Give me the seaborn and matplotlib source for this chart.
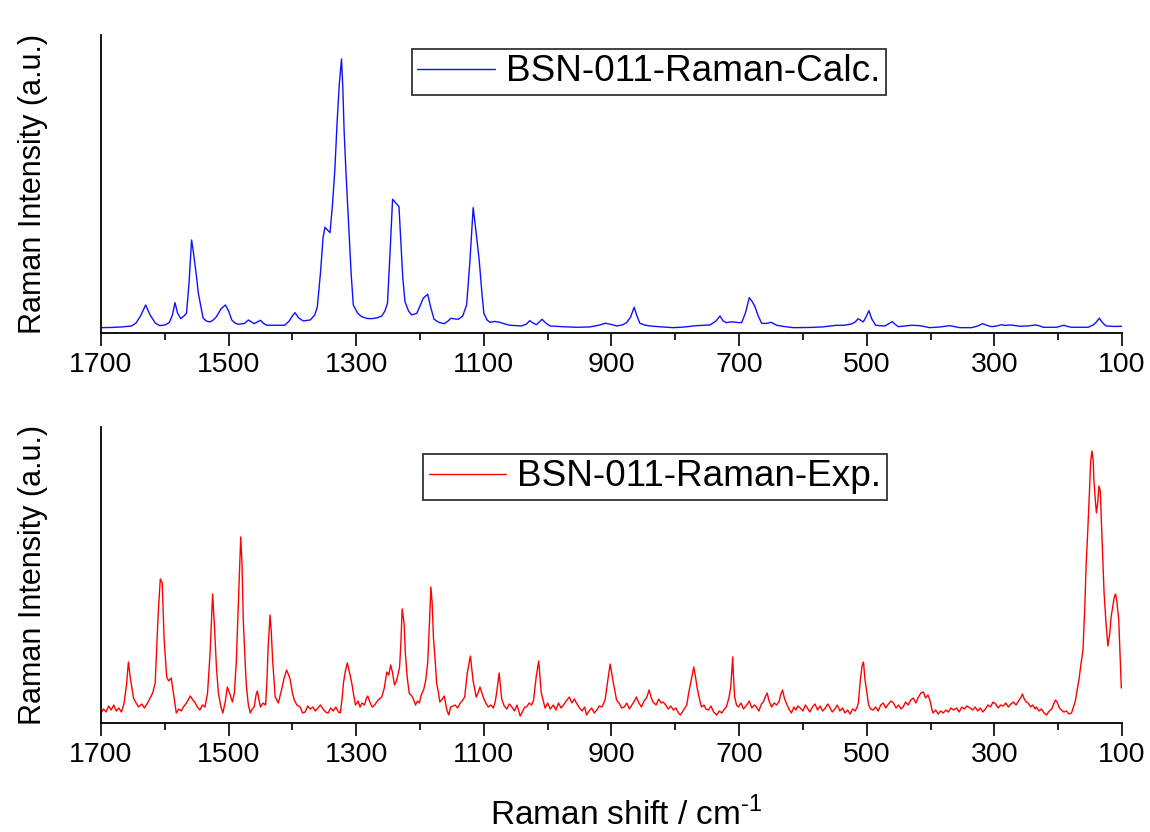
import matplotlib
matplotlib.use("Agg")
from matplotlib import pyplot as plt
import seaborn as sb

# calculated spectrum (shift in cm-1, intensity in a.u.)
calc_shift = [1700, 1684, 1668, 1652, 1645, 1638, 1630, 1623, 1615, 1608, 1600, 1593,
              1588, 1584, 1580, 1575, 1570, 1566, 1562, 1558, 1555, 1553, 1550, 1547.5,
              1543, 1540, 1535, 1529, 1524, 1519, 1512, 1505, 1500, 1495, 1490, 1485,
              1475, 1469, 1464, 1460, 1455, 1450, 1445, 1440, 1425, 1412, 1405, 1400,
              1396, 1390, 1383, 1372, 1365, 1361, 1356, 1352, 1349, 1345, 1341, 1337,
              1333.5, 1330, 1326.6, 1323, 1321, 1319, 1316, 1312.5, 1308, 1304.6, 1298,
              1291.6, 1283, 1276, 1268, 1260, 1255, 1251, 1247, 1243, 1238, 1233, 1230,
              1227, 1223.6, 1218, 1213, 1205, 1200, 1195, 1188, 1183, 1178, 1170, 1162,
              1156, 1151.6, 1145, 1140, 1133, 1127, 1122, 1116.7, 1112, 1107.3, 1103,
              1100, 1095, 1090.5, 1083, 1075, 1067, 1059, 1050, 1041, 1033, 1028, 1023,
              1017.6, 1013, 1008.8, 1003, 996.4, 975, 955, 934, 918, 910, 900, 892, 883,
              876.3, 870, 864.4, 860, 855.5, 848, 840, 820, 803, 785, 766.7, 745.7, 736,
              730, 725, 719.6, 714, 709, 703, 696, 690, 684, 679, 675, 670, 664.6, 657,
              650, 645, 641, 630, 615, 590, 570, 547, 535, 523.7, 518, 513.3, 509, 505.4,
              501, 496.6, 492, 486, 479, 471.5, 466, 460, 455, 450.6, 440, 429.8, 416.7,
              401, 385, 369.6, 360, 353.9, 335.6, 326, 318.4, 311, 304, 296, 288.6, 284,
              280.8, 275, 270.4, 260, 248, 235, 229, 223.5, 202.6, 191, 185, 179, 153,
              145, 140, 135.6, 130, 125, 112, 100.5]
calc_intensity = [5.3, 5.5, 6, 7, 10, 17, 28, 18, 10, 7.3, 8, 10.3,
                  18, 30.3, 20, 14.3, 17, 19.7, 50, 93, 80, 69.7, 55, 40,
                  25, 15, 12, 11, 13, 16.3, 24, 28, 22, 13, 10, 8.7,
                  9.5, 13, 11, 9.3, 11, 12.7, 9.5, 7.7, 7.7, 7.7, 12, 17,
                  20.3, 15, 12, 13, 18, 26, 60, 95, 105.7, 103, 100.3, 130,
                  163, 210, 248, 274, 245, 203, 160, 116.3, 60, 28, 20,
                  16.3, 14.5, 14.3, 15, 17, 22, 29.7, 80, 133.7, 130, 126.3, 89.7,
                  55, 31.3, 22, 18, 19.7, 27, 34.7, 38.7, 25, 13.7, 10.5, 9.3,
                  12, 14.7, 14, 13.7, 17, 28, 70, 125.3, 100, 73, 40,
                  19.7, 13, 10.7, 11.5, 10.7, 9, 7.7, 7.3, 7, 9, 12.3, 10,
                  8.3, 11, 13.7, 10, 7, 6.2, 5.7, 6, 8, 9.7, 8.5, 7, 8,
                  10.3, 16, 25.7, 17, 9.7, 8, 7, 6, 5.3, 6, 7.3, 8, 12,
                  17, 12, 10.3, 11, 11, 10.5, 10.3, 20, 35.3, 31, 26, 17, 9.7, 9.5,
                  10.7, 9, 7.7, 6.5, 5.3, 5.5, 6, 7.7, 7.7, 9, 11, 14.3, 12.5, 11,
                  16, 22.3, 14, 7.7, 7.3, 7, 9, 11.3, 8.5, 6.3, 7, 7.7, 7.3,
                  5.3, 6, 7.3, 6, 5.3, 5.3, 7, 9.3, 7.5, 6.3, 7, 8.3, 7.5,
                  7.7, 8, 7.7, 6.7, 7, 8, 7, 5.7, 5.7, 7.7, 6.5, 5.7, 5.7,
                  8, 11, 14.7, 10, 7, 6.5, 6.7]

exp_shift = [1700, 1696, 1692, 1688, 1684, 1680, 1676, 1672, 1668, 1664, 1660, 1657,
             1654, 1649, 1645, 1641, 1636, 1632, 1627, 1623, 1619, 1615, 1612, 1610,
             1607, 1604, 1601, 1597, 1594, 1590, 1586, 1582, 1578, 1574, 1571, 1566,
             1560, 1556, 1553, 1549, 1545, 1541, 1537, 1533, 1529, 1525, 1522, 1519,
             1516, 1512, 1509, 1505, 1502, 1498, 1494, 1491, 1488, 1485, 1481, 1479,
             1477, 1474, 1472, 1469, 1466, 1463, 1460, 1457, 1455, 1452, 1450, 1446,
             1442, 1440, 1438, 1435, 1433, 1431, 1427, 1422, 1419, 1417, 1413, 1409,
             1406, 1404, 1400, 1397, 1393, 1388, 1384, 1380, 1376, 1372, 1368, 1364,
             1360, 1356, 1352, 1348, 1344, 1340, 1336, 1332, 1328, 1325, 1322, 1320,
             1317, 1314, 1311, 1307, 1304, 1301, 1297, 1294, 1291, 1287, 1284, 1282,
             1278, 1275, 1271, 1268, 1264, 1260, 1256, 1252, 1249, 1246, 1243, 1240,
             1237, 1234, 1232, 1230, 1228, 1225, 1223, 1220, 1217, 1213, 1211, 1207,
             1204, 1201, 1198, 1194, 1191, 1188, 1185, 1183, 1181, 1179, 1176, 1174,
             1171, 1169, 1165, 1162, 1158, 1155, 1152, 1148, 1145, 1141, 1137, 1134,
             1130, 1126, 1121, 1117, 1112, 1109, 1106, 1101, 1097, 1093, 1089, 1085,
             1082, 1080, 1076, 1072, 1068, 1064, 1060, 1056, 1052, 1048, 1043, 1039,
             1036, 1033, 1029, 1025, 1022, 1018, 1014, 1010, 1004, 1000, 996, 991,
             987, 983, 979, 975, 971, 966, 962, 958, 955, 950, 946, 942,
             939, 935, 931, 927, 923, 919, 915, 910, 905, 902, 897, 892,
             888, 884, 880, 876, 872, 868, 864, 861, 857, 853, 849, 845,
             841, 838, 835, 830, 826, 822, 819, 815, 811, 807, 803, 799,
             795, 792, 788, 785, 782, 779, 776, 771, 768, 766, 762, 759,
             755, 752, 748, 744, 740, 735, 731, 727, 723, 720, 716, 713,
             710, 709, 707, 704, 701, 697, 693, 688, 684, 680, 676, 673,
             669, 665, 662, 659, 656, 653, 649, 645, 641, 637, 635, 632,
             629, 626, 622, 618, 614, 611, 608, 604, 600, 596, 592, 589,
             585, 581, 577, 573, 569, 565, 561, 558, 554, 550, 546, 542,
             538, 534, 530, 526, 522, 518, 515, 513, 510, 507, 505, 503,
             501, 497, 494, 490, 486, 482, 478, 474, 470, 466, 462, 458,
             454, 450, 446, 443, 439, 435, 431, 427, 423, 419, 415, 411,
             408, 404, 401, 398, 396, 392, 388, 384, 380, 376, 372, 368,
             364, 359, 355, 351, 347, 343, 338, 334, 330, 326, 322, 318,
             314, 310, 306, 302, 298, 294, 290, 286, 282, 278, 274, 270,
             266, 262, 258, 256, 253, 250, 247, 243, 240, 236, 234, 230,
             226, 222, 218, 214, 210, 207, 204, 201, 198, 195, 191, 187,
             183, 179, 176, 173, 171, 167, 164, 161, 158, 156, 154, 151,
             149, 147, 145, 144, 142, 140, 138, 136, 134, 132, 130, 128,
             125, 122, 119, 117, 114, 112, 110, 108, 105, 103, 101]
exp_intensity = [10, 14, 11, 17, 13, 18, 12, 15, 11, 19, 38, 61,
                 45, 25, 20, 16, 19, 15, 20, 25, 30, 40, 85, 113,
                 144, 140, 83, 46, 42, 45, 28, 10, 14, 12, 16, 20,
                 27, 23, 21, 16, 13, 18, 16, 30, 70, 129, 95, 55,
                 30, 16, 10, 22, 36, 29, 21, 30, 60, 113, 186, 160,
                 103, 60, 36, 18, 10, 14, 16, 28, 32, 22, 16, 20,
                 18, 40, 76, 108, 90, 63, 26, 20, 28, 33, 45, 53,
                 48, 45, 30, 23, 18, 16, 10, 11, 17, 14, 16, 12,
                 15, 18, 14, 11, 10, 15, 12, 16, 11, 10, 25, 40,
                 52, 60, 52, 40, 28, 18, 22, 16, 20, 18, 25, 27,
                 20, 16, 18, 21, 24, 26, 35, 51, 48, 58, 50, 38,
                 42, 50, 56, 80, 114, 100, 70, 45, 30, 27, 25, 18,
                 22, 20, 28, 34, 43, 60, 103, 136, 120, 86, 60, 40,
                 30, 21, 24, 27, 13, 8, 16, 17, 18, 15, 20, 22,
                 26, 50, 67, 43, 26, 30, 36, 26, 20, 16, 18, 15,
                 22, 30, 50, 24, 17, 14, 19, 16, 12, 18, 7, 12,
                 16, 16, 20, 18, 23, 46, 62, 30, 15, 20, 14, 18,
                 13, 20, 15, 18, 22, 26, 20, 24, 20, 15, 12, 16,
                 8, 12, 15, 10, 13, 17, 16, 23, 46, 59, 40, 23,
                 20, 15, 16, 20, 14, 18, 22, 26, 20, 16, 22, 25,
                 33, 26, 21, 18, 24, 20, 21, 18, 14, 17, 13, 15,
                 10, 8, 12, 15, 18, 30, 40, 56, 45, 36, 24, 16,
                 18, 14, 13, 17, 11, 8, 12, 10, 14, 16, 25, 36,
                 66, 50, 26, 18, 16, 20, 14, 18, 22, 15, 18, 16,
                 12, 19, 21, 26, 30, 22, 16, 20, 18, 22, 28, 33,
                 25, 20, 14, 10, 16, 13, 17, 15, 12, 18, 14, 11,
                 16, 19, 13, 17, 12, 15, 19, 16, 11, 14, 18, 12,
                 15, 10, 13, 9, 14, 12, 16, 20, 43, 58, 61, 45,
                 36, 18, 14, 13, 16, 12, 18, 20, 15, 19, 22, 20,
                 15, 18, 14, 16, 21, 18, 23, 25, 20, 26, 30, 31,
                 25, 28, 23, 14, 10, 13, 9, 12, 10, 13, 11, 15,
                 13, 15, 11, 16, 14, 17, 15, 13, 16, 12, 15, 11,
                 14, 18, 16, 21, 19, 15, 18, 17, 20, 16, 19, 21,
                 18, 22, 26, 29, 24, 21, 20, 16, 18, 14, 16, 12,
                 14, 10, 8, 12, 14, 19, 23, 20, 15, 13, 11, 12,
                 9, 10, 16, 22, 30, 45, 60, 73, 120, 160, 186, 230,
                 262, 272, 262, 243, 225, 210, 220, 237, 232, 200, 165, 130,
                 100, 77, 90, 106, 118, 126, 129, 122, 103, 70, 35]

calc_label = "BSN-011-Raman-Calc."
exp_label = "BSN-011-Raman-Exp."
tick_values = [1700, 1500, 1300, 1100, 900, 700, 500, 300, 100]
minor_values = [1600, 1400, 1200, 1000, 800, 600, 400, 200]

sb.set_style("ticks")
plt.rcParams['font.family'] = ['Liberation Sans', 'DejaVu Sans']
plt.rcParams['mathtext.fontset'] = 'custom'
plt.rcParams['mathtext.rm'] = 'Liberation Sans'

fig = plt.figure(figsize=(11.5, 8.32), dpi=100)
ax_top = fig.add_axes([0.0878, 0.5998, 0.8878, 0.3582])
ax_bot = fig.add_axes([0.0878, 0.1310, 0.8878, 0.3558])

sb.lineplot(x=calc_shift, y=calc_intensity, ax=ax_top, color="#1010ff", lw=1.0,
            estimator=None, label=calc_label)
sb.lineplot(x=exp_shift, y=exp_intensity, ax=ax_bot, color="#ff0000", lw=1.0,
            estimator=None, label=exp_label)

for ax, top in [(ax_top, 298), (ax_bot, 296)]:
    ax.set_xlim(1700, 100)
    ax.set_ylim(0, top)
    ax.set_yticks([])
    ax.set_xticks(tick_values)
    ax.set_xticklabels([str(v) for v in tick_values])
    ax.set_xticks(minor_values, minor=True)
    ax.tick_params(axis="x", which="major", length=9.5, width=1.2, pad=4.5,
                   labelsize=20.5, color="black", labelcolor="black", direction="out")
    ax.tick_params(axis="x", which="minor", length=5, width=1.2, color="black",
                   direction="out")
    for side in ["top", "right"]:
        ax.spines[side].set_visible(False)
    for side in ["left", "bottom"]:
        ax.spines[side].set_color("black")
        ax.spines[side].set_linewidth(1.3)
    ax.set_ylabel("Raman Intensity (a.u.)", fontsize=22, color="black")
    ax.yaxis.set_label_coords(-0.052, 0.5)
    ax.set_xlabel("")

leg = ax_top.legend(loc="upper left", bbox_to_anchor=(0.3046, 0.953), borderaxespad=0,
                    fontsize=26.6, handlelength=2.1, handletextpad=0.3, borderpad=0.15,
                    fancybox=False, framealpha=1, labelcolor="black")
leg.get_frame().set_edgecolor("#333333")
leg.get_frame().set_linewidth(1.3)
leg = ax_bot.legend(loc="upper left", bbox_to_anchor=(0.3154, 0.909), borderaxespad=0,
                    fontsize=26.6, handlelength=2.1, handletextpad=0.3, borderpad=0.15,
                    fancybox=False, framealpha=1, labelcolor="black")
leg.get_frame().set_edgecolor("#333333")
leg.get_frame().set_linewidth(1.3)

ax_bot.set_xlabel(r"Raman shift / cm$^{\text{-}1}$", fontsize=24, color="black")
ax_bot.xaxis.set_label_coords(0.514, -0.25)

plt.savefig("out.png", dpi=100)
